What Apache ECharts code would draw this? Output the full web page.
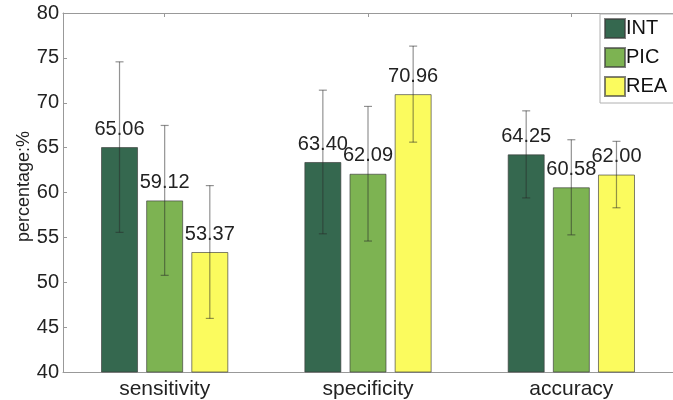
<!DOCTYPE html>
<html>
<head>
<meta charset="utf-8">
<script src="https://cdn.jsdelivr.net/npm/echarts@6/dist/echarts.min.js"></script>
<style>html,body{margin:0;padding:0;background:#fff}#c{width:673px;height:400px}</style>
</head>
<body>
<div id="c"></div>
<script>
var categories = ['sensitivity', 'specificity', 'accuracy'];
var seriesNames = ['INT', 'PIC', 'REA'];
var INT = [65.06, 63.40, 64.25];
var PIC = [59.12, 62.09, 60.58];
var REA = [53.37, 70.96, 62.00];
var INT_sd = [9.5, 8.0, 4.85];
var PIC_sd = [8.35, 7.5, 5.3];
var REA_sd = [7.4, 5.35, 3.7];
var yTicks = [40, 45, 50, 55, 60, 65, 70, 75, 80];

var colors = ['#35684F', '#7DB352', '#FBFB5E'];
var values = [INT, PIC, REA];
var sds = [INT_sd, PIC_sd, REA_sd];
var BAR_FRAC = 0.182, GAP_FRAC = 0.22;
var FONT = '"Liberation Sans", Arial, sans-serif';

var chart = echarts.init(document.getElementById('c'));

function errorSeries(k) {
  var data = categories.map(function (c, i) {
    return [i, values[k][i] - sds[k][i], values[k][i] + sds[k][i]];
  });
  return {
    type: 'custom',
    name: seriesNames[k] + ' sd',
    xAxisIndex: 0, yAxisIndex: 0,
    z: 5,
    silent: true,
    data: data,
    renderItem: function (params, api) {
      var i = api.value(0);
      var band = api.size([1, 0])[0];
      var off = (k - 1) * band * BAR_FRAC * (1 + GAP_FRAC);
      var lo = api.coord([i, api.value(1)]);
      var hi = api.coord([i, api.value(2)]);
      var x = lo[0] + off;
      var cap = 4;
      var st = { stroke: 'rgba(40,40,40,0.5)', lineWidth: 1.2 };
      return {
        type: 'group',
        children: [
          { type: 'line', shape: { x1: x, y1: lo[1], x2: x, y2: hi[1] }, style: st },
          { type: 'line', shape: { x1: x - cap, y1: lo[1], x2: x + cap, y2: lo[1] }, style: st },
          { type: 'line', shape: { x1: x - cap, y1: hi[1], x2: x + cap, y2: hi[1] }, style: st }
        ]
      };
    }
  };
}

var barSeries = seriesNames.map(function (n, k) {
  return {
    type: 'bar',
    name: n,
    data: values[k],
    barWidth: (BAR_FRAC * 100) + '%',
    barGap: (GAP_FRAC * 100) + '%',
    itemStyle: { color: colors[k], borderColor: 'rgba(60,60,60,0.65)', borderWidth: 1 },
    label: {
      show: true, position: 'top', distance: 8,
      fontFamily: FONT, fontSize: 20, color: '#222',
      formatter: function (p) { return p.value.toFixed(2); }
    },
    z: 2
  };
});

chart.setOption({
  animation: false,
  backgroundColor: '#fff',
  grid: { left: 63, right: -5, top: 13, bottom: 28 },
  legend: {
    data: seriesNames,
    orient: 'vertical',
    left: 600, top: 14,
    padding: [4, 40, 6, 4],
    itemWidth: 20, itemHeight: 19, itemGap: 8,
    borderColor: '#b0b0b0', borderWidth: 1,
    backgroundColor: '#fff',
    icon: 'rect',
    textStyle: { fontFamily: FONT, fontSize: 20, color: '#111', padding: [0, 0, 0, -4] }
  },
  xAxis: [{
    type: 'category', data: categories, position: 'bottom',
    axisLine: { lineStyle: { color: '#999', width: 1 } },
    axisTick: { show: false },
    axisLabel: { fontFamily: FONT, fontSize: 21, color: '#222', margin: 7 }
  }, {
    type: 'category', data: categories, position: 'top',
    axisLine: { show: true, lineStyle: { color: '#999', width: 1 } },
    axisTick: { show: true, inside: true, alignWithLabel: true, length: 4, lineStyle: { color: '#999' } },
    axisLabel: { show: false }
  }],
  yAxis: {
    type: 'value', min: yTicks[0], max: yTicks[yTicks.length - 1], interval: 5,
    name: 'percentage:%', nameLocation: 'middle', nameGap: 30, nameMoveOverlap: false,
    nameTextStyle: { fontFamily: FONT, fontSize: 18, color: '#222', padding: [0, 0, 0, 12] },
    axisLine: { show: true, lineStyle: { color: '#999', width: 1 } },
    axisTick: { show: true, inside: true, length: 4, lineStyle: { color: '#999' } },
    axisLabel: { fontFamily: FONT, fontSize: 20, color: '#222', margin: 4 },
    splitLine: { show: false }
  },
  series: barSeries.concat([errorSeries(0), errorSeries(1), errorSeries(2)])
});
</script>
</body>
</html>
